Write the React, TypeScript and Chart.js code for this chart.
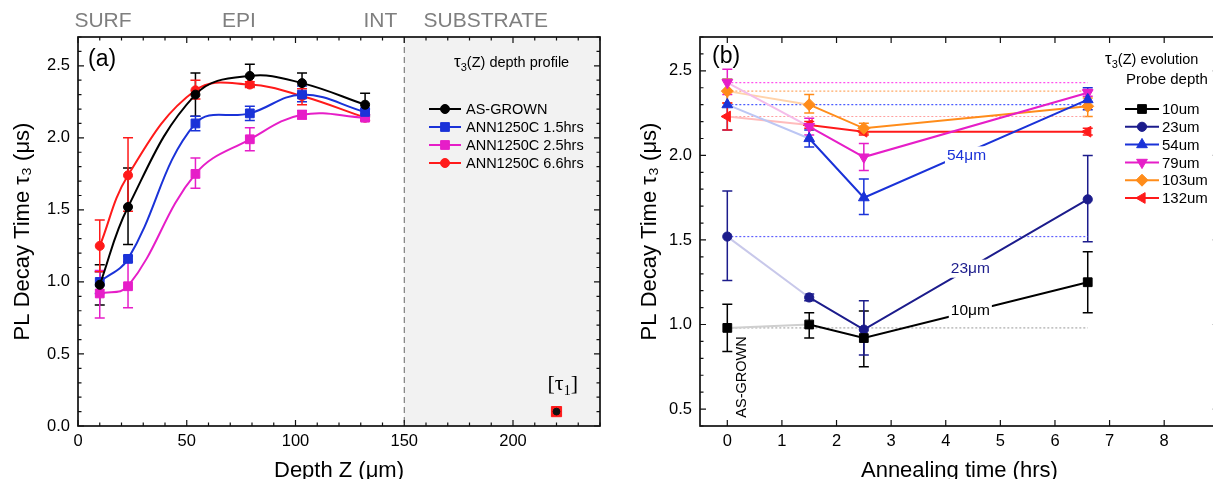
import React, { useEffect, useRef } from "react";
import { Chart, registerables } from "chart.js";

Chart.register(...registerables);

const FONT = "'Liberation Sans', Arial, sans-serif";
const SERIF = "'Liberation Serif', 'Times New Roman', serif";

// ---------------- data ----------------
const DEPTHS = [10, 23, 54, 79, 103, 132];
const TIMES = [0, 1.5, 2.5, 6.6];
const SAMPLE_NAMES = ["AS-GROWN", "ANN1250C 1.5hrs", "ANN1250C 2.5hrs", "ANN1250C 6.6hrs"];
const PROBE_NAMES = ["10um", "23um", "54um", "79um", "103um", "132um"];

const AS_GROWN = [0.98, 1.52, 2.3, 2.43, 2.38, 2.23];
const AS_GROWN_LO = [0.84, 1.26, 2.15, 2.36, 2.31, 2.15];
const AS_GROWN_HI = [1.12, 1.79, 2.45, 2.51, 2.45, 2.31];

const ANN_15 = [1.0, 1.16, 2.1, 2.17, 2.3, 2.18];
const ANN_15_LO = [0.92, 1.14, 2.05, 2.12, 2.25, 2.16];
const ANN_15_HI = [1.07, 1.18, 2.15, 2.22, 2.36, 2.2];

const ANN_25 = [0.92, 0.97, 1.75, 1.99, 2.16, 2.14];
const ANN_25_LO = [0.75, 0.82, 1.65, 1.91, 2.13, 2.12];
const ANN_25_HI = [1.08, 1.14, 1.86, 2.07, 2.19, 2.16];

const ANN_66 = [1.25, 1.74, 2.33, 2.37, 2.29, 2.14];
const ANN_66_LO = [1.07, 1.49, 2.27, 2.35, 2.23, 2.12];
const ANN_66_HI = [1.43, 2.0, 2.4, 2.39, 2.34, 2.16];

const TAU1_DEPTH = [220];
const TAU1_VALUE = [0.1];

const LEFT_X_TICKS = [0, 50, 100, 150, 200];
const LEFT_Y_TICKS = [0, 0.5, 1.0, 1.5, 2.0, 2.5];
const RIGHT_X_TICKS = [0, 1, 2, 3, 4, 5, 6, 7, 8];
const RIGHT_Y_TICKS = [0.5, 1.0, 1.5, 2.0, 2.5];

const REGION_NAMES = ["SURF", "EPI", "INT", "SUBSTRATE"];
const REGION_CENTERS = [11.5, 74, 139, 187.5];
const SUBSTRATE_START = 150;

const CURVE_LABELS = ["54μm", "23μm", "10μm"];
const CURVE_LABEL_PROBE = [2, 1, 0];
const CURVE_LABEL_X = [4.38, 4.45, 4.45];
const CURVE_LABEL_Y = [2.0, 1.33, 1.08];

const SAMPLE_VALUES = [AS_GROWN, ANN_15, ANN_25, ANN_66];
const SAMPLE_LO = [AS_GROWN_LO, ANN_15_LO, ANN_25_LO, ANN_66_LO];
const SAMPLE_HI = [AS_GROWN_HI, ANN_15_HI, ANN_25_HI, ANN_66_HI];

// ---------------- styles ----------------
type Marker = { style: string; r: number; rot: number };
const SAMPLE_COLORS = ["#000000", "#1a32d8", "#e61ec8", "#ff1a1a"];
const SAMPLE_MARKERS: Marker[] = [
  { style: "circle", r: 4.5, rot: 0 },
  { style: "rect", r: 6.2, rot: 0 },
  { style: "rect", r: 6.2, rot: 0 },
  { style: "circle", r: 4.5, rot: 0 },
];
const PROBE_COLORS = ["#000000", "#1c1c8c", "#1a32d8", "#e61ec8", "#ff8c1a", "#ff1a1a"];
const PROBE_FADED = ["#cfcfcf", "#c8c8ea", "#bcc6f4", "#f4bce9", "#ffd3aa", "#ffbcbc"];
const PROBE_REF = ["#aaaaaa", "#6060ff", "#4a5cff", "#ff50ee", "#ffaa66", "#ffa0a0"];
const PROBE_MARKERS: Marker[] = [
  { style: "rect", r: 6.2, rot: 0 },
  { style: "circle", r: 4.6, rot: 0 },
  { style: "triangle", r: 6.2, rot: 0 },
  { style: "triangle", r: 6.2, rot: 180 },
  { style: "rectRot", r: 6, rot: 0 },
  { style: "triangle", r: 6.2, rot: 270 },
];

// ---------------- helpers ----------------
function drawMarker(ctx: CanvasRenderingContext2D, m: Marker, x: number, y: number, color: string) {
  ctx.save();
  ctx.translate(x, y);
  ctx.rotate((m.rot * Math.PI) / 180);
  ctx.fillStyle = color;
  ctx.strokeStyle = color;
  ctx.lineWidth = 1;
  ctx.beginPath();
  const r = m.r;
  if (m.style === "circle") ctx.arc(0, 0, r, 0, Math.PI * 2);
  else if (m.style === "rect") {
    const s = r * Math.SQRT1_2;
    ctx.rect(-s, -s, 2 * s, 2 * s);
  } else if (m.style === "rectRot") {
    ctx.moveTo(0, -r);
    ctx.lineTo(r, 0);
    ctx.lineTo(0, r);
    ctx.lineTo(-r, 0);
    ctx.closePath();
  } else {
    for (let k = 0; k < 3; k++) {
      const a = (k * 2 * Math.PI) / 3;
      const px = Math.sin(a) * r;
      const py = -Math.cos(a) * r;
      if (k === 0) ctx.moveTo(px, py);
      else ctx.lineTo(px, py);
    }
    ctx.closePath();
  }
  ctx.fill();
  ctx.stroke();
  ctx.restore();
}

type Piece = [string, number, number, string?];
function drawRich(ctx: CanvasRenderingContext2D, pieces: Piece[], x: number, y: number, color: string) {
  ctx.save();
  ctx.fillStyle = color;
  ctx.textBaseline = "alphabetic";
  ctx.textAlign = "left";
  let cx = x;
  for (const [t, size, dy, fam] of pieces) {
    ctx.font = `${size}px ${fam || FONT}`;
    ctx.fillText(t, cx, y + dy);
    cx += ctx.measureText(t).width;
  }
  ctx.restore();
}

function range(min: number, max: number, step: number) {
  const out: number[] = [];
  const i0 = Math.ceil(min / step - 1e-9);
  for (let i = i0; i * step <= max + 1e-9; i++) out.push(+(i * step).toFixed(6));
  return out;
}

function framePlugin(xMajor: number[], yMajor: number[], xMinor: number | null, yMinor: number) {
  return {
    id: "frameTicks",
    afterDatasetsDraw(chart: any) {
      const { ctx, chartArea, scales } = chart;
      const { left, right, top, bottom } = chartArea;
      const xs = scales.x;
      const ys = scales.y;
      const MAJ = 6;
      const MIN = 3.5;
      ctx.save();
      ctx.strokeStyle = "#111";
      ctx.lineWidth = 1.2;
      ctx.beginPath();
      const xt = (v: number, len: number) => {
        const p = xs.getPixelForValue(v);
        if (p < left - 0.5 || p > right + 0.5) return;
        ctx.moveTo(p, bottom);
        ctx.lineTo(p, bottom - len);
        ctx.moveTo(p, top);
        ctx.lineTo(p, top + len);
      };
      const yt = (v: number, len: number) => {
        const p = ys.getPixelForValue(v);
        if (p < top - 0.5 || p > bottom + 0.5) return;
        ctx.moveTo(left, p);
        ctx.lineTo(left + len, p);
        ctx.moveTo(right, p);
        ctx.lineTo(right - len, p);
      };
      xMajor.forEach((v) => xt(v, MAJ));
      yMajor.forEach((v) => yt(v, MAJ));
      if (xMinor) range(xs.min, xs.max, xMinor).filter((v) => !xMajor.some((m) => Math.abs(m - v) < 1e-6)).forEach((v) => xt(v, MIN));
      range(ys.min, ys.max, yMinor).filter((v) => !yMajor.some((m) => Math.abs(m - v) < 1e-6)).forEach((v) => yt(v, MIN));
      ctx.stroke();
      ctx.lineWidth = 1.7;
      ctx.strokeRect(left, top, right - left, bottom - top);
      ctx.restore();
    },
  };
}

type Bar = { x: number; lo: number; hi: number; color: string };
function errorBarPlugin(bars: Bar[]) {
  return {
    id: "errorBars",
    beforeDatasetsDraw(chart: any) {
      const { ctx, scales } = chart;
      ctx.save();
      ctx.lineWidth = 1.5;
      for (const b of bars) {
        const px = scales.x.getPixelForValue(b.x);
        const pl = scales.y.getPixelForValue(b.lo);
        const ph = scales.y.getPixelForValue(b.hi);
        ctx.strokeStyle = b.color;
        ctx.beginPath();
        ctx.moveTo(px, pl);
        ctx.lineTo(px, ph);
        ctx.moveTo(px - 5, pl);
        ctx.lineTo(px + 5, pl);
        ctx.moveTo(px - 5, ph);
        ctx.lineTo(px + 5, ph);
        ctx.stroke();
      }
      ctx.restore();
    },
  };
}

function axisOptions(min: number, max: number, ticks: number[], fmt: (v: number) => string, pad: number, title: string, titlePad: any) {
  return {
    type: "linear" as const,
    min,
    max,
    afterBuildTicks: (s: any) => {
      s.ticks = ticks.map((v) => ({ value: v }));
    },
    grid: { display: false, drawTicks: false },
    border: { display: false },
    ticks: {
      font: { family: FONT, size: 16.5 },
      color: "#000",
      padding: pad,
      maxRotation: 0,
      autoSkip: false,
      callback: (v: any) => fmt(Number(v)),
    },
    title: { display: true, text: title, font: { family: FONT, size: 22 }, color: "#000", padding: titlePad },
  };
}

// ---------------- left chart ----------------
function buildLeft(canvas: HTMLCanvasElement) {
  const datasets: any[] = SAMPLE_VALUES.map((vals, i) => ({
    label: SAMPLE_NAMES[i],
    data: DEPTHS.map((d, j) => ({ x: d, y: vals[j] })),
    showLine: true,
    borderColor: SAMPLE_COLORS[i],
    backgroundColor: SAMPLE_COLORS[i],
    borderWidth: 2,
    tension: 0.4,
    pointStyle: SAMPLE_MARKERS[i].style,
    pointRadius: SAMPLE_MARKERS[i].r,
    pointBorderWidth: 1,
  }));
  datasets.push({
    label: "tau1 dot",
    data: TAU1_DEPTH.map((d, k) => ({ x: d, y: TAU1_VALUE[k] })),
    showLine: false,
    pointStyle: "circle",
    pointRadius: 3.4,
    backgroundColor: "#111",
    borderColor: "#111",
    order: -1,
  });
  datasets.push({
    label: "tau1 box",
    data: TAU1_DEPTH.map((d, k) => ({ x: d, y: TAU1_VALUE[k] })),
    showLine: false,
    pointStyle: "rect",
    pointRadius: 7.2,
    backgroundColor: "#ff1a1a",
    borderColor: "#ff1a1a",
  });

  const bars: Bar[] = [];
  SAMPLE_VALUES.forEach((_, i) =>
    DEPTHS.forEach((d, j) => bars.push({ x: d, lo: SAMPLE_LO[i][j], hi: SAMPLE_HI[i][j], color: SAMPLE_COLORS[i] }))
  );

  const substrate = {
    id: "substrate",
    beforeDatasetsDraw(chart: any) {
      const { ctx, chartArea, scales } = chart;
      const x0 = scales.x.getPixelForValue(SUBSTRATE_START);
      ctx.save();
      ctx.fillStyle = "#f2f2f2";
      ctx.fillRect(x0, chartArea.top, chartArea.right - x0, chartArea.bottom - chartArea.top);
      ctx.strokeStyle = "#666";
      ctx.lineWidth = 1;
      ctx.setLineDash([6, 4]);
      ctx.beginPath();
      ctx.moveTo(x0, chartArea.top);
      ctx.lineTo(x0, chartArea.bottom);
      ctx.stroke();
      ctx.restore();
    },
  };

  const annotations = {
    id: "leftText",
    afterDraw(chart: any) {
      const { ctx, chartArea, scales } = chart;
      const { right, top } = chartArea;
      ctx.save();
      ctx.fillStyle = "#7f7f7f";
      ctx.font = `21px ${FONT}`;
      ctx.textAlign = "center";
      ctx.textBaseline = "middle";
      REGION_NAMES.forEach((n, i) => ctx.fillText(n, scales.x.getPixelForValue(REGION_CENTERS[i]), 21));
      ctx.fillStyle = "#000";
      ctx.font = `23px ${FONT}`;
      ctx.textAlign = "left";
      ctx.fillText("(a)", chartArea.left + 10, top + 23);
      ctx.restore();
      drawRich(ctx, [["τ", 17, 0], ["3", 11, 4], ["(Z) depth profile", 14.5, 0]], right - 146, top + 30, "#000");
      // legend
      SAMPLE_NAMES.forEach((n, i) => {
        const y = top + 72 + 18 * i;
        ctx.save();
        ctx.strokeStyle = SAMPLE_COLORS[i];
        ctx.lineWidth = 2;
        ctx.beginPath();
        ctx.moveTo(right - 171, y);
        ctx.lineTo(right - 139, y);
        ctx.stroke();
        ctx.restore();
        drawMarker(ctx, SAMPLE_MARKERS[i], right - 155, y, SAMPLE_COLORS[i]);
        ctx.save();
        ctx.fillStyle = "#000";
        ctx.font = `14.5px ${FONT}`;
        ctx.textBaseline = "middle";
        ctx.fillText(n, right - 134, y + 1);
        ctx.restore();
      });
      drawRich(
        ctx,
        [["[", 22, 0, SERIF], ["τ", 22, 0, SERIF], ["1", 14, 5, SERIF], ["]", 22, 0, SERIF]],
        scales.x.getPixelForValue(TAU1_DEPTH[0]) - 9,
        scales.y.getPixelForValue(0.3) + 7,
        "#000"
      );
    },
  };

  const xAx: any = axisOptions(0, 240, LEFT_X_TICKS, (v) => String(v), 6, "Depth Z (μm)", { top: 0, bottom: -5 });
  xAx.afterFit = (s: any) => {
    s.height = 53;
  };
  const yAx: any = axisOptions(0, 2.7, LEFT_Y_TICKS, (v) => v.toFixed(1), 8, "PL Decay Time τ₃ (μs)", { top: 10, bottom: 0 });
  yAx.afterFit = (s: any) => {
    s.width = 78;
  };

  return new Chart(canvas, {
    type: "scatter",
    data: { datasets },
    options: {
      responsive: false,
      animation: false,
      layout: { padding: { top: 37, right: 20, left: 0, bottom: 0 } },
      plugins: { legend: { display: false }, tooltip: { enabled: false } },
      scales: { x: xAx, y: yAx },
    },
    plugins: [substrate, errorBarPlugin(bars), framePlugin(LEFT_X_TICKS, LEFT_Y_TICKS, 10, 0.1), annotations],
  });
}

// ---------------- right chart ----------------
function buildRight(canvas: HTMLCanvasElement) {
  const datasets: any[] = [];
  PROBE_NAMES.forEach((n, j) => {
    datasets.push({
      label: n,
      data: TIMES.map((t, i) => ({ x: t, y: SAMPLE_VALUES[i][j] })),
      showLine: true,
      borderColor: PROBE_COLORS[j],
      backgroundColor: PROBE_COLORS[j],
      borderWidth: 2,
      tension: 0,
      pointStyle: PROBE_MARKERS[j].style,
      pointRadius: PROBE_MARKERS[j].r,
      pointRotation: PROBE_MARKERS[j].rot,
      pointBorderWidth: 1,
      segment: { borderColor: (c: any) => (c.p0DataIndex === 0 ? PROBE_FADED[j] : undefined) },
      order: 0,
    });
  });
  PROBE_NAMES.forEach((n, j) => {
    datasets.push({
      label: n + " ref",
      data: [
        { x: TIMES[0], y: AS_GROWN[j] },
        { x: TIMES[TIMES.length - 1], y: AS_GROWN[j] },
      ],
      showLine: true,
      borderColor: PROBE_REF[j],
      borderWidth: 1.2,
      borderDash: [2, 2],
      pointRadius: 0,
      order: 5,
    });
  });

  const bars: Bar[] = [];
  PROBE_NAMES.forEach((_, j) =>
    TIMES.forEach((t, i) => bars.push({ x: t, lo: SAMPLE_LO[i][j], hi: SAMPLE_HI[i][j], color: PROBE_COLORS[j] }))
  );

  const annotations = {
    id: "rightText",
    afterDraw(chart: any) {
      const { ctx, chartArea, scales } = chart;
      const { left, top } = chartArea;
      ctx.save();
      ctx.fillStyle = "#000";
      ctx.font = `23px ${FONT}`;
      ctx.textBaseline = "middle";
      ctx.fillText("(b)", left + 12, top + 20);
      ctx.restore();
      drawRich(ctx, [["τ", 17, 0], ["3", 11, 4], ["(Z) evolution", 14.5, 0]], left + 405, top + 27, "#000");
      ctx.save();
      ctx.fillStyle = "#000";
      ctx.font = `15px ${FONT}`;
      ctx.textBaseline = "middle";
      ctx.fillText("Probe depth", left + 426, top + 43);
      ctx.restore();
      PROBE_NAMES.forEach((n, j) => {
        const y = top + 72 + 17.8 * j;
        ctx.save();
        ctx.strokeStyle = PROBE_COLORS[j];
        ctx.lineWidth = 2;
        ctx.beginPath();
        ctx.moveTo(left + 425, y);
        ctx.lineTo(left + 459, y);
        ctx.stroke();
        ctx.restore();
        drawMarker(ctx, PROBE_MARKERS[j], left + 442, y, PROBE_COLORS[j]);
        ctx.save();
        ctx.fillStyle = "#000";
        ctx.font = `15px ${FONT}`;
        ctx.textBaseline = "middle";
        ctx.fillText(n, left + 462, y + 1);
        ctx.restore();
      });
      // curve labels
      CURVE_LABELS.forEach((t, k) => {
        const px = scales.x.getPixelForValue(CURVE_LABEL_X[k]);
        const py = scales.y.getPixelForValue(CURVE_LABEL_Y[k]);
        ctx.save();
        ctx.font = `15.5px ${FONT}`;
        const w = ctx.measureText(t).width;
        ctx.fillStyle = "#fff";
        ctx.fillRect(px - w / 2 - 2, py - 9, w + 4, 18);
        ctx.fillStyle = PROBE_COLORS[CURVE_LABEL_PROBE[k]];
        ctx.textAlign = "center";
        ctx.textBaseline = "middle";
        ctx.fillText(t, px, py);
        ctx.restore();
      });
      // AS-GROWN vertical label
      ctx.save();
      ctx.translate(scales.x.getPixelForValue(0.265), scales.y.getPixelForValue(0.69));
      ctx.rotate(-Math.PI / 2);
      ctx.fillStyle = "#000";
      ctx.font = `14.5px ${FONT}`;
      ctx.textAlign = "center";
      ctx.textBaseline = "middle";
      ctx.fillText("AS-GROWN", 0, 0);
      ctx.restore();
    },
  };

  const xAx: any = axisOptions(-0.5, 9.0, RIGHT_X_TICKS, (v) => String(v), 6, "Annealing time (hrs)", { top: 0, bottom: -5 });
  xAx.afterFit = (s: any) => {
    s.height = 53;
  };
  const yAx: any = axisOptions(0.4, 2.7, RIGHT_Y_TICKS, (v) => v.toFixed(1), 8, "PL Decay Time τ₃ (μs)", { top: 17, bottom: 0 });
  yAx.afterFit = (s: any) => {
    s.width = 80;
  };

  return new Chart(canvas, {
    type: "scatter",
    data: { datasets },
    options: {
      responsive: false,
      animation: false,
      layout: { padding: { top: 37, right: 4, left: 0, bottom: 0 } },
      plugins: { legend: { display: false }, tooltip: { enabled: false } },
      scales: { x: xAx, y: yAx },
    },
    plugins: [errorBarPlugin(bars), framePlugin(RIGHT_X_TICKS, RIGHT_Y_TICKS, null, 0.1), annotations],
  });
}

export default function App() {
  const leftRef = useRef<HTMLCanvasElement>(null);
  const rightRef = useRef<HTMLCanvasElement>(null);
  useEffect(() => {
    const a = buildLeft(leftRef.current!);
    const b = buildRight(rightRef.current!);
    return () => {
      a.destroy();
      b.destroy();
    };
  }, []);
  return (
    <div style={{ position: "fixed", left: 0, top: 0, width: 1213, height: 479, overflow: "hidden", background: "#fff" }}>
      <canvas ref={leftRef} width={620} height={479} style={{ position: "absolute", left: 0, top: 0 }} />
      <canvas ref={rightRef} width={606} height={479} style={{ position: "absolute", left: 620, top: 0 }} />
    </div>
  );
}
